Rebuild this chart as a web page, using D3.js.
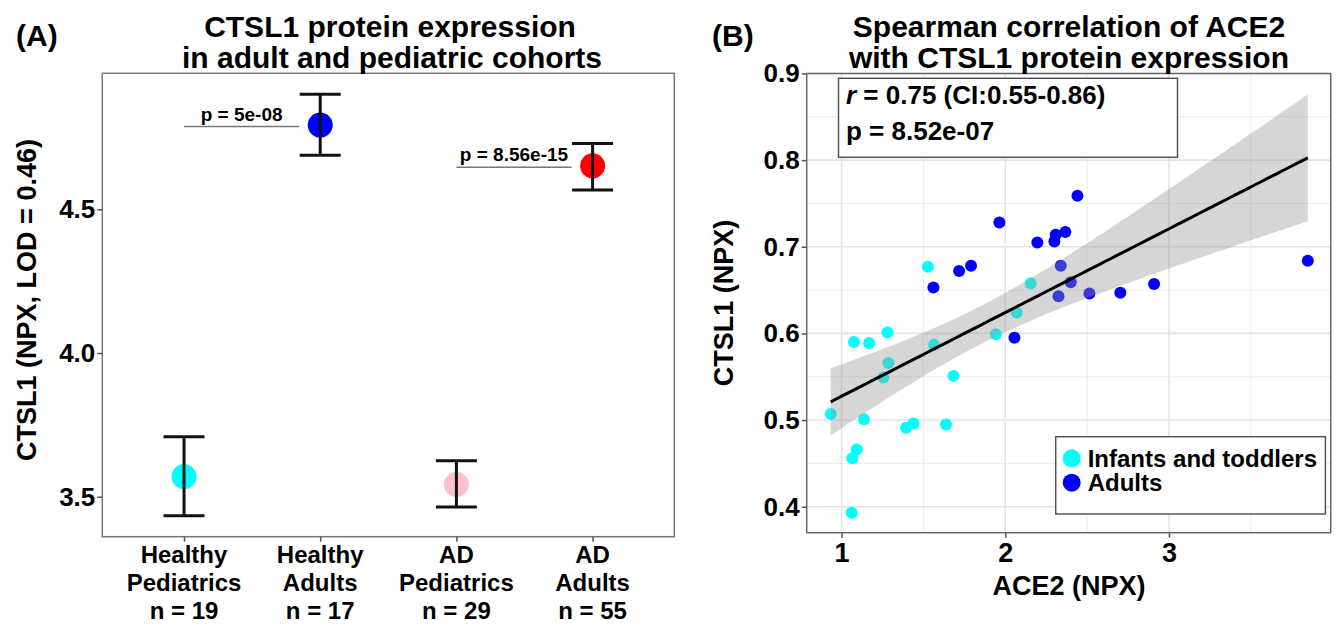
<!DOCTYPE html>
<html>
<head>
<meta charset="utf-8">
<script src="https://cdn.jsdelivr.net/npm/d3@7"></script>
<style>
	body { margin: 0; background: #fff; }
	svg text { font-family: "Liberation Sans", Arial, sans-serif; font-weight: bold; fill: #000; }
</style>
</head>
<body>
<svg id="chart" width="1340" height="629"></svg>
<script>
'use strict';

// Panel A data
var categories = ['Healthy Pediatrics', 'Healthy Adults', 'AD Pediatrics', 'AD Adults'];
var catLines = [['Healthy', 'Pediatrics', 'n = 19'], ['Healthy', 'Adults', 'n = 17'], ['AD', 'Pediatrics', 'n = 29'], ['AD', 'Adults', 'n = 55']];
var means = [3.570, 4.793, 3.543, 4.651];
var lower = [3.434, 4.688, 3.464, 4.567];
var upper = [3.709, 4.900, 3.625, 4.729];
var catColors = ['#00ffff', '#0000ff', '#ffc0cb', '#ff0000'];
var pFrom = [0, 2];
var pTo = [1, 3];
var pLabels = ['p = 5e-08', 'p = 8.56e-15'];
var leftTicks = [3.5, 4.0, 4.5];

// Panel B data
var infantX = [0.934, 1.076, 1.168, 1.280, 1.286, 1.255, 1.137, 1.394, 1.439, 1.527, 1.565, 1.683, 1.638, 1.942, 2.070, 2.156, 1.066, 1.093, 1.062];
var infantY = [0.507, 0.590, 0.589, 0.601, 0.566, 0.549, 0.501, 0.491, 0.496, 0.677, 0.587, 0.551, 0.495, 0.599, 0.624, 0.658, 0.456, 0.466, 0.393];
var adultX = [1.561, 1.718, 1.791, 1.964, 2.056, 2.196, 2.300, 2.308, 2.367, 2.441, 2.339, 2.325, 2.400, 2.514, 2.703, 2.909, 3.848];
var adultY = [0.653, 0.672, 0.678, 0.728, 0.595, 0.705, 0.706, 0.714, 0.717, 0.759, 0.678, 0.643, 0.659, 0.646, 0.647, 0.657, 0.684];
var xTicks = [1, 2, 3];
var xMinor = [1.5, 2.5, 3.5];
var yTicks = [0.4, 0.5, 0.6, 0.7, 0.8, 0.9];
var yMinor = [0.45, 0.55, 0.65, 0.75, 0.85];
var legendLabels = ['Infants and toddlers', 'Adults'];
var groupColors = ['#00ffff', '#0000ff'];

var svg = d3.select('#chart');

function styleAxis(g, size) {
	g.select('.domain').remove();
	g.selectAll('.tick line').attr('stroke', '#555').attr('stroke-width', 1.5);
	g.selectAll('.tick text').attr('font-size', size).attr('fill', '#000');
}

// ---------- Panel A ----------
var L = { left: 102.3, right: 674.3, top: 73.3, bottom: 536.7 };
var xA = d3.scalePoint().domain(categories).range([L.left, L.right]).padding(0.6);
var yA = d3.scaleLinear().domain([3.361, 4.973]).range([L.bottom, L.top]);

svg.append('rect')
	.attr('x', L.left).attr('y', L.top)
	.attr('width', L.right - L.left).attr('height', L.bottom - L.top)
	.attr('fill', '#fff').attr('stroke', '#777').attr('stroke-width', 1.5);

svg.append('g')
	.attr('transform', 'translate(' + L.left + ',0)')
	.call(d3.axisLeft(yA).tickValues(leftTicks).tickFormat(d3.format('.1f')).tickSize(5).tickPadding(2))
	.call(styleAxis, 26);

svg.append('g')
	.attr('transform', 'translate(0,' + L.bottom + ')')
	.call(d3.axisBottom(xA).tickSize(5).tickFormat(''))
	.call(styleAxis, 24);

// category labels
var catLab = svg.append('g').selectAll('text')
	.data(categories)
	.join('text')
	.attr('text-anchor', 'middle')
	.attr('font-size', 24);
catLab.each(function (d, i) {
	var t = d3.select(this);
	catLines[i].forEach(function (line, j) {
		t.append('tspan').attr('x', xA(d)).attr('y', 563 + j * 28).text(line);
	});
});

// mean points
svg.append('g').selectAll('circle')
	.data(categories)
	.join('circle')
	.attr('cx', function (d) { return xA(d); })
	.attr('cy', function (d, i) { return yA(means[i]); })
	.attr('r', 12.5)
	.attr('fill', function (d, i) { return catColors[i]; });

// error bars
var eb = svg.append('g').attr('stroke', '#111').attr('stroke-width', 3).attr('fill', 'none');
categories.forEach(function (c, i) {
	var cx = xA(c);
	eb.append('line').attr('x1', cx).attr('x2', cx).attr('y1', yA(lower[i])).attr('y2', yA(upper[i]));
	eb.append('line').attr('x1', cx - 20.5).attr('x2', cx + 20.5).attr('y1', yA(lower[i])).attr('y2', yA(lower[i]));
	eb.append('line').attr('x1', cx - 20.5).attr('x2', cx + 20.5).attr('y1', yA(upper[i])).attr('y2', yA(upper[i]));
});

// p-value annotations
pLabels.forEach(function (lab, k) {
	var x1 = xA(categories[pFrom[k]]),
		x2 = xA(categories[pTo[k]]) - 21,
		yy = yA(means[pTo[k]]) + 1.5;
	svg.append('line')
		.attr('x1', x1).attr('x2', x2).attr('y1', yy).attr('y2', yy)
		.attr('stroke', '#777').attr('stroke-width', 1.5);
	svg.append('text')
		.attr('x', (x1 + x2) / 2).attr('y', yy - 6)
		.attr('text-anchor', 'middle').attr('font-size', 19)
		.text(lab);
});

svg.append('text')
	.attr('transform', 'translate(36,300) rotate(-90)')
	.attr('text-anchor', 'middle').attr('font-size', 27)
	.text('CTSL1 (NPX, LOD = 0.46)');

svg.append('text').attr('x', 390).attr('y', 37).attr('text-anchor', 'middle').attr('font-size', 30).text('CTSL1 protein expression');
svg.append('text').attr('x', 392).attr('y', 68).attr('text-anchor', 'middle').attr('font-size', 30).text('in adult and pediatric cohorts');
svg.append('text').attr('x', 16).attr('y', 46).attr('font-size', 30).text('(A)');

// ---------- Panel B ----------
var R = { left: 806.7, right: 1330.7, top: 73.5, bottom: 532.7 };
var xB = d3.scaleLinear().domain([0.787, 3.988]).range([R.left, R.right]);
var yB = d3.scaleLinear().domain([0.370, 0.900]).range([R.bottom, R.top]);

var grid = svg.append('g').attr('fill', 'none');
grid.selectAll('.vmin').data(xMinor).join('line')
	.attr('x1', xB).attr('x2', xB).attr('y1', R.top).attr('y2', R.bottom)
	.attr('stroke', '#ededed').attr('stroke-width', 1);
grid.selectAll('.hmin').data(yMinor).join('line')
	.attr('y1', yB).attr('y2', yB).attr('x1', R.left).attr('x2', R.right)
	.attr('stroke', '#ededed').attr('stroke-width', 1);
grid.selectAll('.vmaj').data(xTicks).join('line')
	.attr('x1', xB).attr('x2', xB).attr('y1', R.top).attr('y2', R.bottom)
	.attr('stroke', '#e4e4e4').attr('stroke-width', 1.6);
grid.selectAll('.hmaj').data(yTicks).join('line')
	.attr('y1', yB).attr('y2', yB).attr('x1', R.left).attr('x2', R.right)
	.attr('stroke', '#e4e4e4').attr('stroke-width', 1.6);

// scatter points
svg.append('g').selectAll('circle')
	.data(infantX)
	.join('circle')
	.attr('cx', function (d) { return xB(d); })
	.attr('cy', function (d, i) { return yB(infantY[i]); })
	.attr('r', 6).attr('fill', groupColors[0]);
svg.append('g').selectAll('circle')
	.data(adultX)
	.join('circle')
	.attr('cx', function (d) { return xB(d); })
	.attr('cy', function (d, i) { return yB(adultY[i]); })
	.attr('r', 6).attr('fill', groupColors[1]);

// linear fit with 95% confidence band, from the points
var allX = infantX.concat(adultX),
	allY = infantY.concat(adultY),
	n = allX.length,
	mx = d3.mean(allX),
	my = d3.mean(allY),
	sxx = d3.sum(allX, function (x) { return (x - mx) * (x - mx); }),
	sxy = d3.sum(allX, function (x, i) { return (x - mx) * (allY[i] - my); }),
	slope = sxy / sxx,
	icpt = my - slope * mx,
	s2 = d3.sum(allX, function (x, i) { var r = allY[i] - icpt - slope * x; return r * r; }) / (n - 2),
	tq = 2.032;
var fitX = d3.range(0, 81).map(function (k) { return d3.min(allX) + (d3.max(allX) - d3.min(allX)) * k / 80; });
var fit = fitX.map(function (x) {
	var yh = icpt + slope * x,
		se = Math.sqrt(s2 * (1 / n + (x - mx) * (x - mx) / sxx));
	return { x: x, y: yh, lo: yh - tq * se, hi: yh + tq * se };
});

svg.append('path')
	.datum(fit)
	.attr('fill', '#999999').attr('fill-opacity', 0.4)
	.attr('d', d3.area().x(function (d) { return xB(d.x); }).y0(function (d) { return yB(d.lo); }).y1(function (d) { return yB(d.hi); }));
svg.append('path')
	.datum(fit)
	.attr('fill', 'none').attr('stroke', '#000').attr('stroke-width', 3)
	.attr('d', d3.line().x(function (d) { return xB(d.x); }).y(function (d) { return yB(d.y); }));

svg.append('rect')
	.attr('x', R.left).attr('y', R.top)
	.attr('width', R.right - R.left).attr('height', R.bottom - R.top)
	.attr('fill', 'none').attr('stroke', '#666').attr('stroke-width', 1.5);

svg.append('g')
	.attr('transform', 'translate(' + R.left + ',0)')
	.call(d3.axisLeft(yB).tickValues(yTicks).tickFormat(d3.format('.1f')).tickSize(5).tickPadding(2))
	.call(styleAxis, 26);
svg.append('g')
	.attr('transform', 'translate(0,' + R.bottom + ')')
	.call(d3.axisBottom(xB).tickValues(xTicks).tickFormat(d3.format('d')).tickSize(5).tickPadding(5))
	.call(styleAxis, 27);

// stats box
svg.append('rect')
	.attr('x', 838.5).attr('y', 78.3).attr('width', 339).attr('height', 79)
	.attr('fill', '#fff').attr('stroke', '#555').attr('stroke-width', 1.5);
var st = svg.append('text').attr('x', 846).attr('y', 104).attr('font-size', 26);
st.append('tspan').attr('font-style', 'italic').text('r');
st.append('tspan').text('  = 0.75 (CI:0.55-0.86)');
svg.append('text').attr('x', 846).attr('y', 140).attr('font-size', 26).text('p = 8.52e-07');

// legend
svg.append('rect')
	.attr('x', 1055.7).attr('y', 436.7).attr('width', 269.7).attr('height', 77.3)
	.attr('fill', '#fff').attr('stroke', '#555').attr('stroke-width', 1.5);
var lg = svg.append('g').selectAll('g')
	.data(legendLabels)
	.join('g')
	.attr('transform', function (d, i) { return 'translate(1071.7,' + (458.3 + i * 24.4) + ')'; });
lg.append('circle').attr('r', 9).attr('fill', function (d, i) { return groupColors[i]; });
lg.append('text').attr('x', 16).attr('y', 8.5).attr('font-size', 24).text(function (d) { return d; });

svg.append('text').attr('x', 1069).attr('y', 595).attr('text-anchor', 'middle').attr('font-size', 27).text('ACE2 (NPX)');
svg.append('text')
	.attr('transform', 'translate(733,303) rotate(-90)')
	.attr('text-anchor', 'middle').attr('font-size', 27)
	.text('CTSL1 (NPX)');

svg.append('text').attr('x', 1069).attr('y', 37).attr('text-anchor', 'middle').attr('font-size', 30).text('Spearman correlation of ACE2');
svg.append('text').attr('x', 1069).attr('y', 68).attr('text-anchor', 'middle').attr('font-size', 30).text('with CTSL1 protein expression');
svg.append('text').attr('x', 712).attr('y', 46).attr('font-size', 30).text('(B)');
</script>
</body>
</html>
